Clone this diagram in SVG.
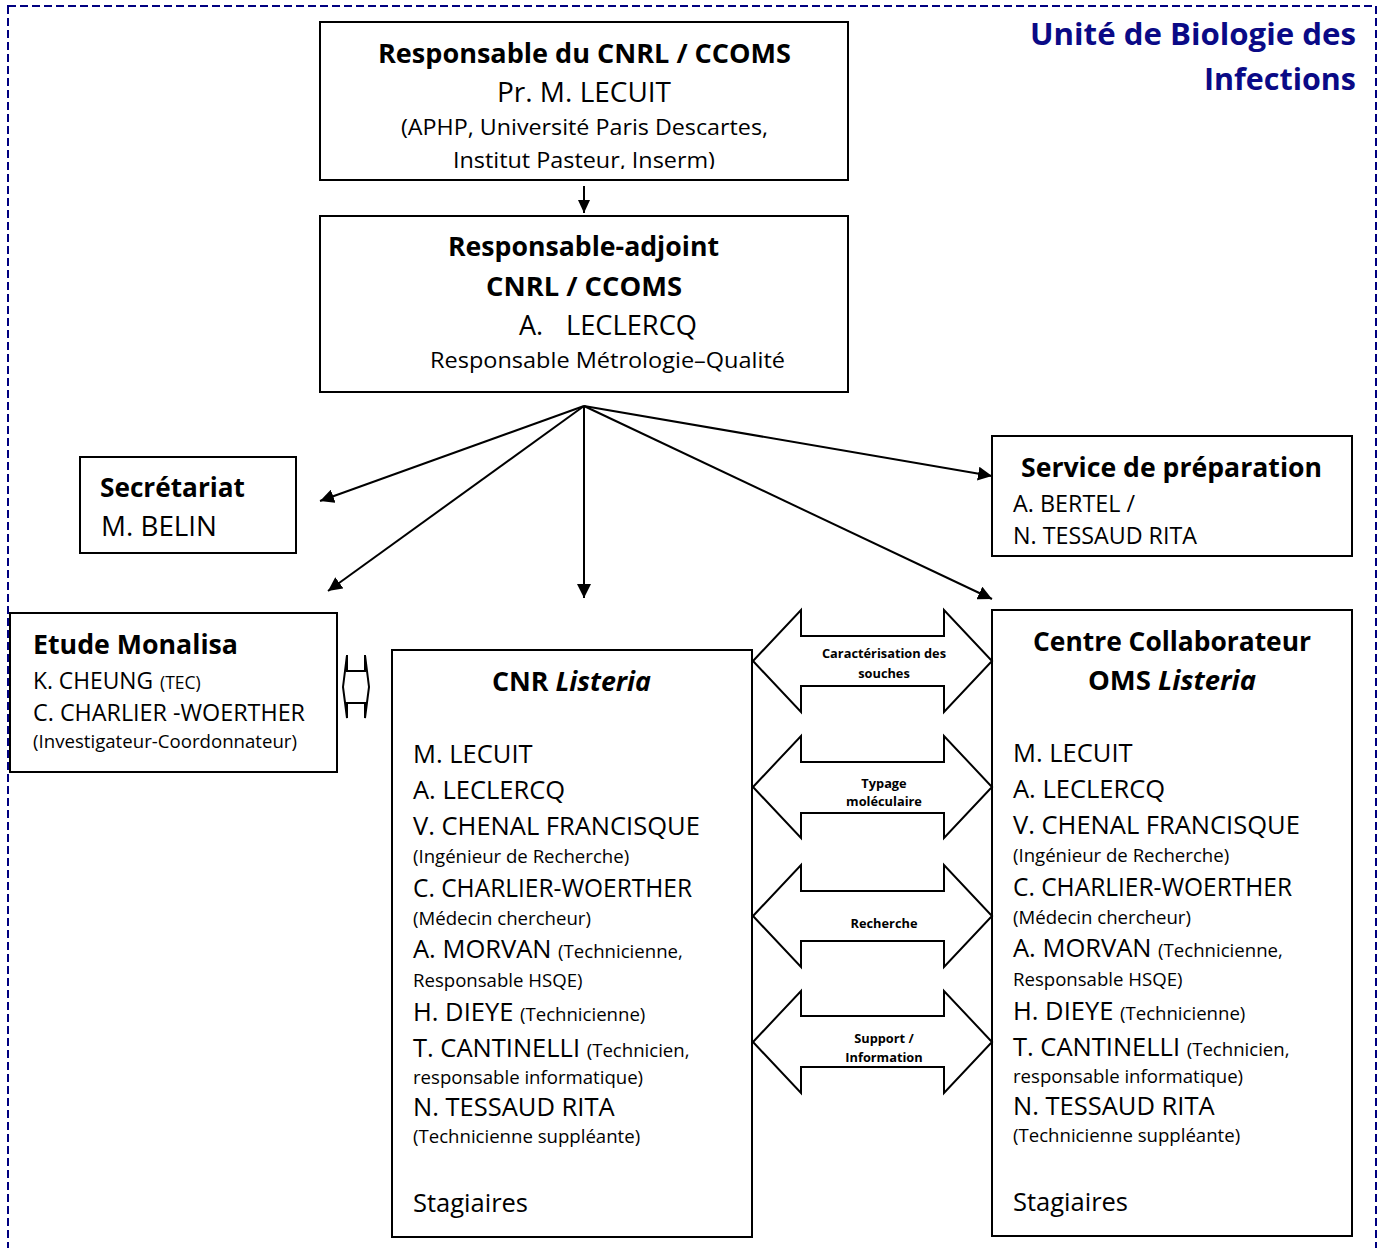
<svg xmlns="http://www.w3.org/2000/svg" width="1383" height="1248" viewBox="0 0 1383 1248">
<style>
text{font-family:"Open Sans","Liberation Sans",sans-serif;fill:#000}
.box{fill:#fff;stroke:#000;stroke-width:2}
.b{font-weight:bold}
.c{text-anchor:middle}
.big{font-size:25.5px}
.sm{font-size:18.6px}
.lab{font-size:12.8px;font-weight:bold;text-anchor:middle}
.conn{stroke:#000;stroke-width:2;fill:none}
.dbl{fill:#fff;stroke:#000;stroke-width:2;stroke-linejoin:miter}
.title{font-size:30px;font-weight:bold;fill:#0A0A86;text-anchor:end}
</style>
<defs>
<marker id="ah" viewBox="0 0 14 14" refX="14" refY="7" markerWidth="14" markerHeight="14" markerUnits="userSpaceOnUse" orient="auto">
<path d="M0,0 L14,7 L0,14 z" fill="#000"/>
</marker>
<marker id="ahs" viewBox="0 0 13 12" refX="13" refY="6" markerWidth="13" markerHeight="12" markerUnits="userSpaceOnUse" orient="auto">
<path d="M0,0 L13,6 L0,12 z" fill="#000"/>
</marker>
<clipPath id="clipTop"><rect x="320" y="20" width="530" height="149"/></clipPath>
</defs>
<rect width="1383" height="1248" fill="#fff"/>
<g id="frame">
<rect x="8" y="6" width="1368" height="1270" fill="none" stroke="#000080" stroke-width="2" stroke-dasharray="8 4"/>
<text class="title" x="1356" y="45" textLength="326" lengthAdjust="spacingAndGlyphs">Unité de Biologie des</text>
<text class="title" x="1356" y="90" textLength="152" lengthAdjust="spacingAndGlyphs">Infections</text>
</g>
<g id="connectors">
<line class="conn" x1="584" y1="186" x2="584" y2="213" marker-end="url(#ahs)"/>
<line class="conn" x1="584" y1="406" x2="320" y2="501" marker-end="url(#ah)"/>
<line class="conn" x1="584" y1="406" x2="328" y2="591" marker-end="url(#ah)"/>
<line class="conn" x1="584" y1="406" x2="584" y2="598" marker-end="url(#ah)"/>
<line class="conn" x1="584" y1="406" x2="992" y2="476" marker-end="url(#ah)"/>
<line class="conn" x1="584" y1="406" x2="992" y2="599" marker-end="url(#ah)"/>
<polygon class="dbl" points="343,687 347,655 347,671 365,671 365,655 369,687 365,718 365,703 347,703 347,718"/>
</g>
<g id="responsable">
<rect class="box" x="320" y="22" width="528" height="158"/>
<text class="b c" x="584.5" y="63" font-size="26" textLength="413" lengthAdjust="spacingAndGlyphs">Responsable du CNRL / CCOMS</text>
<text class="c" x="584" y="102" font-size="27" textLength="174" lengthAdjust="spacingAndGlyphs">Pr. M. LECUIT</text>
<text class="c" x="584.5" y="135" font-size="21.5" textLength="367" lengthAdjust="spacingAndGlyphs">(APHP, Université Paris Descartes,</text>
<text class="c" x="584" y="168" font-size="21.5" textLength="262" lengthAdjust="spacingAndGlyphs" clip-path="url(#clipTop)">Institut Pasteur, Inserm)</text>
</g>
<g id="adjoint">
<rect class="box" x="320" y="216" width="528" height="176"/>
<text class="b c" x="583.5" y="256" font-size="26" textLength="271" lengthAdjust="spacingAndGlyphs">Responsable-adjoint</text>
<text class="b c" x="584" y="296" font-size="26" textLength="196" lengthAdjust="spacingAndGlyphs">CNRL / CCOMS</text>
<text x="519" y="335" font-size="27">A.</text>
<text x="566" y="335" font-size="27" textLength="131" lengthAdjust="spacingAndGlyphs">LECLERCQ</text>
<text class="c" x="607.5" y="368" font-size="22" textLength="355" lengthAdjust="spacingAndGlyphs">Responsable Métrologie–Qualité</text>
</g>
<g id="secretariat">
<rect class="box" x="80" y="457" width="216" height="96"/>
<text class="b" x="100" y="497" font-size="26" textLength="145" lengthAdjust="spacingAndGlyphs">Secrétariat</text>
<text x="101" y="536" font-size="27" textLength="116" lengthAdjust="spacingAndGlyphs">M. BELIN</text>
</g>
<g id="service">
<rect class="box" x="992" y="436" width="360" height="120"/>
<text class="b" x="1021" y="477" font-size="26" textLength="301" lengthAdjust="spacingAndGlyphs">Service de préparation</text>
<text x="1013" y="512" font-size="23" textLength="122" lengthAdjust="spacingAndGlyphs">A. BERTEL /</text>
<text x="1013" y="544" font-size="23" textLength="184" lengthAdjust="spacingAndGlyphs">N. TESSAUD RITA</text>
</g>
<g id="monalisa">
<rect class="box" x="10" y="613" width="327" height="159"/>
<text class="b" x="33" y="654" font-size="26" textLength="205" lengthAdjust="spacingAndGlyphs">Etude Monalisa</text>
<text x="33" y="689" font-size="23"><tspan textLength="120" lengthAdjust="spacingAndGlyphs">K. CHEUNG</tspan><tspan x="160" font-size="17.5">(TEC)</tspan></text>
<text x="33" y="721" font-size="23" textLength="272" lengthAdjust="spacingAndGlyphs">C. CHARLIER -WOERTHER</text>
<text x="33" y="748" font-size="18.5" textLength="264" lengthAdjust="spacingAndGlyphs">(Investigateur-Coordonnateur)</text>
</g>
<g id="cnr">
<rect class="box" x="392" y="650" width="360" height="587"/>
<text class="b c" x="571.5" y="691" font-size="26" textLength="159" lengthAdjust="spacingAndGlyphs">CNR <tspan font-style="italic">Listeria</tspan></text>
<text class="big" x="413" y="763">M. LECUIT</text>
<text class="big" x="413" y="799">A. LECLERCQ</text>
<text class="big" x="413" y="835">V. CHENAL FRANCISQUE</text>
<text class="sm" x="413" y="863">(Ingénieur de Recherche)</text>
<text class="big" x="413" y="897" textLength="279" lengthAdjust="spacingAndGlyphs">C. CHARLIER-WOERTHER</text>
<text class="sm" x="413" y="925">(Médecin chercheur)</text>
<text class="big" x="413" y="958">A. MORVAN <tspan class="sm">(Technicienne,</tspan></text>
<text class="sm" x="413" y="987">Responsable HSQE)</text>
<text class="big" x="413" y="1021">H. DIEYE <tspan class="sm">(Technicienne)</tspan></text>
<text class="big" x="413" y="1057">T. CANTINELLI <tspan class="sm">(Technicien,</tspan></text>
<text class="sm" x="413" y="1084">responsable informatique)</text>
<text class="big" x="413" y="1116">N. TESSAUD RITA</text>
<text class="sm" x="413" y="1143">(Technicienne suppléante)</text>
<text class="big" x="413" y="1212">Stagiaires</text>
</g>
<g id="centre">
<rect class="box" x="992" y="610" width="360" height="626"/>
<text class="b c" x="1172" y="651" font-size="26" textLength="278" lengthAdjust="spacingAndGlyphs">Centre Collaborateur</text>
<text class="b c" x="1172" y="690" font-size="26" textLength="168" lengthAdjust="spacingAndGlyphs">OMS <tspan font-style="italic">Listeria</tspan></text>
<text class="big" x="1013" y="762">M. LECUIT</text>
<text class="big" x="1013" y="798">A. LECLERCQ</text>
<text class="big" x="1013" y="834">V. CHENAL FRANCISQUE</text>
<text class="sm" x="1013" y="862">(Ingénieur de Recherche)</text>
<text class="big" x="1013" y="896" textLength="279" lengthAdjust="spacingAndGlyphs">C. CHARLIER-WOERTHER</text>
<text class="sm" x="1013" y="924">(Médecin chercheur)</text>
<text class="big" x="1013" y="957">A. MORVAN <tspan class="sm">(Technicienne,</tspan></text>
<text class="sm" x="1013" y="986">Responsable HSQE)</text>
<text class="big" x="1013" y="1020">H. DIEYE <tspan class="sm">(Technicienne)</tspan></text>
<text class="big" x="1013" y="1056">T. CANTINELLI <tspan class="sm">(Technicien,</tspan></text>
<text class="sm" x="1013" y="1083">responsable informatique)</text>
<text class="big" x="1013" y="1115">N. TESSAUD RITA</text>
<text class="sm" x="1013" y="1142">(Technicienne suppléante)</text>
<text class="big" x="1013" y="1211">Stagiaires</text>
</g>
<g id="link-caracterisation">
<polygon class="dbl" points="753,661 801,610 801,636 944,636 944,610 992,661 944,712 944,686 801,686 801,712"/>
<text class="lab" x="884" y="658">Caractérisation des</text>
<text class="lab" x="884" y="678">souches</text>
</g>
<g id="link-typage">
<polygon class="dbl" points="753,787 801,736 801,762 944,762 944,736 992,787 944,838 944,813 801,813 801,838"/>
<text class="lab" x="884" y="788">Typage</text>
<text class="lab" x="884" y="806">moléculaire</text>
</g>
<g id="link-recherche">
<polygon class="dbl" points="753,916 801,865 801,891 944,891 944,865 992,916 944,967 944,941 801,941 801,967"/>
<text class="lab" x="884" y="928">Recherche</text>
</g>
<g id="link-support">
<polygon class="dbl" points="753,1042 801,991 801,1016 944,1016 944,991 992,1042 944,1093 944,1067 801,1067 801,1093"/>
<text class="lab" x="884" y="1043">Support /</text>
<text class="lab" x="884" y="1062">Information</text>
</g>
</svg>
